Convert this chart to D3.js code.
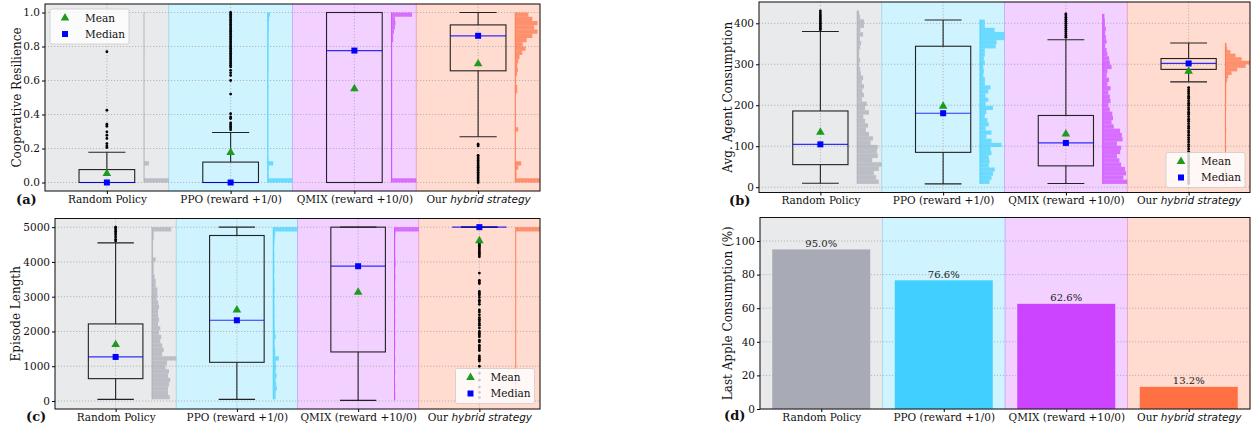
<!DOCTYPE html>
<html>
<head>
<meta charset="utf-8">
<script src="https://cdn.jsdelivr.net/npm/d3@7"></script>
<style>
body { margin: 0; background: #fff; }
svg text { font-family: "DejaVu Serif", serif; }
</style>
</head>
<body>
<svg id="chart" width="1253" height="425"></svg>
<script>
// methods + colours
const methods = ["Random Policy", "PPO (reward +1/0)", "QMIX (reward +10/0)", "Our hybrid strategy"]
const colors = ["#a8abb5", "#40cfff", "#cc44ff", "#ff7043"]

// box stats per method: [whisker lo, q1, median, q3, whisker hi, mean]
const crBox = [[0, 0, 0, 0.076, 0.178, 0.053], [0, 0, 0, 0.12, 0.294, 0.176], [0, 0, 0.776, 1.0, 1.0, 0.551], [0.269, 0.657, 0.863, 0.927, 1.0, 0.698]]
const acBox = [[9.7, 55, 104.5, 186, 380, 134], [8, 85, 180.5, 344, 408, 197.6], [9, 52, 108, 175, 360, 130], [257, 287.5, 302, 314, 352, 283]]
const elBox = [[48, 643, 1267, 2217, 4549, 1622], [48, 1113, 2322, 4760, 5000, 2620], [19, 1411, 3877, 5000, 5000, 3129], [5000, 5000, 5000, 5000, 5000, 4607]]

// fliers
const crOut = [
    [0.206, 0.216, 0.229, 0.259, 0.278, 0.298, 0.331, 0.343, 0.425, 0.769],
    [0.31, 0.32, 0.33, 0.34, 0.35, 0.376, 0.386, 0.405, 0.52, 0.6, 0.63, 0.645, 0.66, 0.68, 0.69, 0.7, 0.71, 0.72, 0.73, 0.74, 0.75, 0.76, 0.77, 0.78, 0.79, 0.8, 0.81, 0.82, 0.83, 0.84, 0.85, 0.86, 0.87, 0.88, 0.89, 0.9, 0.91, 0.92, 0.93, 0.94, 0.95, 0.96, 0.97, 0.98, 0.99, 1.0],
    [],
    [0.0, 0.01, 0.02, 0.03, 0.04, 0.05, 0.06, 0.07, 0.08, 0.09, 0.1, 0.11, 0.12, 0.13, 0.14, 0.15, 0.16, 0.215, 0.225]
]
const acOut = [
    [384, 388, 392, 396, 400, 404, 408, 412, 416, 420, 425, 430],
    [],
    [366, 370, 375, 380, 385, 390, 395, 400, 405, 410, 415, 420, 423],
    [243, 238, 233, 228, 222, 217, 211, 205, 200, 194, 189, 183, 178, 172, 166, 161, 155, 149, 144, 138, 133, 127, 121, 116, 110, 104, 99, 93, 87, 82, 76, 70, 65, 59, 53, 48, 42, 36, 31, 25, 19, 14, 9]
]
const elOut = [
    [4600, 4650, 4720, 4780, 4830, 4880, 4930, 4980, 5000],
    [],
    [],
    [4560, 4520, 4480, 4440, 4400, 4350, 4300, 4250, 4200, 4150, 3680, 3470, 3420, 3380, 3150, 3100, 3050, 2980, 2900, 2850, 2780, 2620, 2560, 2480, 2400, 2350, 2300, 2230, 2180, 2100, 2000, 1950, 1900, 1850, 1750, 1700, 1600, 1550, 1500, 1450, 1300, 1250, 1200, 1150, 1000, 800, 600, 400, 250, 100]
]

// side histograms (relative bin widths, lowest bin first) and their value ranges
const crHist = [
    [1, 0.01, 0.01, 0.01, 0.2, 0.01, 0.01, 0.01, 0.01, 0.01, 0.01, 0.01, 0.01, 0.01, 0.01, 0.01, 0.01, 0, 0, 0, 0, 0, 0, 0, 0, 0, 0, 0, 0, 0, 0.01, 0, 0, 0, 0, 0, 0, 0, 0, 0],
    [1, 0.04, 0.03, 0.04, 0.22, 0.03, 0.02, 0.02, 0.02, 0.02, 0.02, 0.02, 0.02, 0.02, 0.02, 0.02, 0.02, 0.02, 0.02, 0.02, 0.02, 0.02, 0.03, 0.02, 0.02, 0.02, 0.03, 0.03, 0.03, 0.03, 0.03, 0.03, 0.03, 0.03, 0.03, 0.04, 0.04, 0.04, 0.05, 0.09],
    [1, 0.03, 0.03, 0.03, 0.03, 0.03, 0.03, 0.03, 0.03, 0.03, 0.03, 0.03, 0.03, 0.03, 0.03, 0.03, 0.03, 0.03, 0.03, 0.03, 0.03, 0.03, 0.03, 0.03, 0.03, 0.03, 0.03, 0.03, 0.03, 0.03, 0.03, 0.03, 0.03, 0.07, 0.07, 0.1, 0.14, 0.16, 0.14, 0.83],
    [1, 0.05, 0.05, 0.12, 0.24, 0.02, 0.02, 0.02, 0.02, 0.02, 0.02, 0.02, 0.12, 0.02, 0.02, 0.02, 0.02, 0.02, 0.02, 0.02, 0.02, 0.08, 0.08, 0.03, 0.03, 0.07, 0.11, 0.08, 0.12, 0.17, 0.28, 0.42, 0.3, 0.46, 0.69, 0.9, 0.76, 0.9, 0.69, 0.53]
]
const crRange = [[0, 1], [0, 1], [0, 1], [0, 1]]

const acHist = [
    [0.88, 0.77, 0.68, 0.88, 1.0, 0.61, 0.84, 0.8, 0.84, 0.55, 0.64, 0.48, 0.35, 0.44, 0.32, 0.25, 0.48, 0.32, 0.39, 0.19, 0.28, 0.21, 0.28, 0.19, 0.24, 0.15, 0.12, 0.08, 0.12, 0.08, 0.08, 0.12, 0.16, 0.11, 0.24, 0.13, 0.28, 0.28, 0.12, 0.08],
    [0.39, 0.47, 0.53, 0.6, 0.36, 0.39, 0.36, 0.47, 0.43, 0.88, 0.47, 0.26, 0.47, 0.23, 0.36, 0.3, 0.2, 0.26, 0.53, 0.23, 0.34, 0.23, 0.34, 0.43, 0.2, 0.2, 0.14, 0.16, 0.14, 0.2, 0.16, 0.2, 0.2, 0.64, 0.68, 1.0, 1.0, 0.6, 0.2, 0.2],
    [1.0, 0.84, 0.95, 0.91, 0.75, 0.68, 0.58, 0.71, 0.75, 0.58, 0.81, 0.78, 0.71, 0.45, 0.36, 0.42, 0.39, 0.29, 0.23, 0.32, 0.29, 0.23, 0.32, 0.19, 0.26, 0.16, 0.19, 0.36, 0.29, 0.26, 0.19, 0.16, 0.1, 0.16, 0.13, 0.1, 0.13, 0.09, 0.09, 0.07],
    [0.02, 0.02, 0.02, 0.02, 0.02, 0.03, 0.02, 0.02, 0.02, 0.02, 0.03, 0.02, 0.02, 0.02, 0.02, 0.03, 0.02, 0.02, 0.02, 0.02, 0.02, 0.03, 0.02, 0.03, 0.03, 0.03, 0.03, 0.03, 0.04, 0.07, 0.11, 0.25, 0.48, 0.82, 1.0, 0.66, 0.41, 0.2, 0.07, 0.04]
]
const acRange = [[8, 431], [8, 409], [8, 423], [5, 352]]

const elHist = [
    [0.73, 0.66, 0.66, 0.7, 0.75, 0.66, 0.7, 0.56, 0.62, 1.0, 0.42, 0.48, 0.42, 0.34, 0.38, 0.29, 0.34, 0.25, 0.29, 0.25, 0.25, 0.29, 0.25, 0.2, 0.22, 0.22, 0.15, 0.15, 0.11, 0.07, 0.07, 0.07, 0.15, 0.04, 0.04, 0.04, 0.04, 0.07, 0.07, 0.79],
    [0.1, 0.1, 0.15, 0.12, 0.1, 0.14, 0.1, 0.12, 0.1, 0.23, 0.08, 0.08, 0.06, 0.06, 0.1, 0.08, 0.06, 0.06, 0.05, 0.06, 0.05, 0.06, 0.05, 0.05, 0.05, 0.06, 0.05, 0.05, 0.04, 0.05, 0.05, 0.04, 0.04, 0.05, 0.04, 0.04, 0.05, 0.06, 0.08, 1.0],
    [0.03, 0.03, 0.02, 0.03, 0.02, 0.02, 0.03, 0.02, 0.02, 0.03, 0.02, 0.02, 0.03, 0.03, 0.02, 0.03, 0.02, 0.03, 0.03, 0.02, 0.03, 0.03, 0.02, 0.03, 0.03, 0.03, 0.02, 0.03, 0.04, 0.03, 0.03, 0.05, 0.04, 0.03, 0.03, 0.03, 0.03, 0.03, 0.04, 1.0],
    [0.01, 0.01, 0.01, 0.01, 0.01, 0.01, 0.01, 0.01, 0.01, 0.01, 0.01, 0.01, 0.01, 0.01, 0.01, 0.01, 0.01, 0.01, 0.01, 0.01, 0.01, 0.01, 0.01, 0.01, 0.01, 0.01, 0.01, 0.01, 0.01, 0.01, 0.01, 0.01, 0.01, 0.01, 0.01, 0.01, 0.01, 0.01, 0.01, 1.0]
]
const elRange = [[48, 5000], [48, 5000], [19, 5000], [60, 5000]]

// panel (d)
const lastApple = [95.0, 76.6, 62.6, 13.2]

const crTicks = [0, 0.2, 0.4, 0.6, 0.8, 1.0]
const acTicks = [0, 100, 200, 300, 400]
const elTicks = [0, 1000, 2000, 3000, 4000, 5000]
const laTicks = [0, 20, 40, 60, 80, 100]

let svg = d3.select("#chart")

function spans(g, x, top, bottom) {
    let unit = x(1) - x(0)
    methods.forEach((m, i) => {
        g.append("rect")
            .attr("x", x(i - 0.5)).attr("y", top)
            .attr("width", unit).attr("height", bottom - top)
            .attr("fill", colors[i]).attr("fill-opacity", 0.25)
            .attr("stroke", colors[i]).attr("stroke-opacity", 0.3).attr("stroke-width", 0.8)
    })
}

function hgrid(g, y, ticks, left, right) {
    g.selectAll(null).data(ticks).enter().append("line")
        .attr("x1", left).attr("x2", right)
        .attr("y1", d => y(d)).attr("y2", d => y(d))
        .attr("stroke", "#aaa").attr("stroke-width", 0.8).attr("stroke-dasharray", "1.2,1.8")
}

function axes(g, x, y, p) {
    let ya = g.append("g").attr("transform", `translate(${p.left},0)`)
        .call(d3.axisLeft(y).tickValues(p.ticks).tickFormat(p.fmt).tickSize(3).tickPadding(2))
    ya.select(".domain").remove()
    ya.selectAll("text").attr("font-size", 10.5).attr("font-family", "DejaVu Serif").attr("fill", "#111")

    let xa = g.append("g").attr("transform", `translate(0,${p.bottom})`)
        .call(d3.axisBottom(x).tickValues([0, 1, 2, 3]).tickFormat(i => methods[i]).tickSize(3).tickPadding(1.5))
    xa.select(".domain").remove()
    xa.selectAll("text").attr("font-size", 10.5).attr("font-family", "DejaVu Serif").attr("fill", "#111")
    // italic part of the last label
    xa.selectAll("text").filter(d => d === 3).each(function() {
        let t = d3.select(this).text(null)
        t.append("tspan").text("Our ")
        t.append("tspan").text("hybrid strategy").attr("font-style", "italic").attr("font-family", "DejaVu Sans")
    })

    g.append("rect")
        .attr("x", p.left).attr("y", p.top)
        .attr("width", p.right - p.left).attr("height", p.bottom - p.top)
        .attr("fill", "none").attr("stroke", "#111").attr("stroke-width", 1)

    g.append("text")
        .attr("transform", `translate(${p.labelX},${(p.top + p.bottom) / 2}) rotate(-90)`)
        .attr("text-anchor", "middle").attr("font-size", 12).attr("fill", "#111")
        .text(p.label)

    g.append("text").attr("x", p.tagX).attr("y", p.tagY)
        .attr("font-size", 13).attr("font-weight", "bold").attr("fill", "#111")
        .text(p.tag)
}

function legend(g, x0, y0) {
    g.append("rect").attr("x", x0).attr("y", y0).attr("width", 79).attr("height", 35)
        .attr("rx", 2).attr("fill", "#fff").attr("fill-opacity", 0.8).attr("stroke", "#ccc").attr("stroke-width", 0.8)
    g.append("path").attr("transform", `translate(${x0 + 15},${y0 + 9})`)
        .attr("d", d3.symbol(d3.symbolTriangle, 32)).attr("fill", "#1f9a1f")
    g.append("path").attr("transform", `translate(${x0 + 15},${y0 + 25})`)
        .attr("d", d3.symbol(d3.symbolSquare, 36)).attr("fill", "#0000ff")
    g.append("text").attr("x", x0 + 35).attr("y", y0 + 12.5).attr("font-size", 10.5).attr("fill", "#111").text("Mean")
    g.append("text").attr("x", x0 + 35).attr("y", y0 + 28.5).attr("font-size", 10.5).attr("fill", "#111").text("Median")
}

function boxPanel(p) {
    let x = d3.scaleLinear().domain([-0.5, 3.5]).range([p.left, p.right])
    let y = d3.scaleLinear().domain(p.ydom).range([p.bottom, p.top])
    let unit = x(1) - x(0)
    let g = svg.append("g")

    spans(g, x, p.top, p.bottom)
    hgrid(g, y, p.ticks, p.left, p.right)
    g.selectAll(null).data([0, 1, 2, 3]).enter().append("line")
        .attr("x1", d => x(d)).attr("x2", d => x(d))
        .attr("y1", p.top).attr("y2", p.bottom)
        .attr("stroke", "#aaa").attr("stroke-width", 0.8).attr("stroke-dasharray", "1.2,1.8")

    // side histograms
    p.hist.forEach((h, i) => {
        let [lo, hi] = p.range[i]
        let bh = (hi - lo) / h.length
        g.selectAll(null).data(h).enter().append("rect")
            .attr("x", x(i + 0.3))
            .attr("y", (d, k) => y(lo + (k + 1) * bh))
            .attr("width", d => d * 0.2 * unit)
            .attr("height", y(lo) - y(lo + bh))
            .attr("fill", colors[i]).attr("fill-opacity", 0.7)
        g.append("line")
            .attr("x1", x(i + 0.3)).attr("x2", x(i + 0.3))
            .attr("y1", y(lo)).attr("y2", y(hi))
            .attr("stroke", colors[i]).attr("stroke-opacity", 0.8).attr("stroke-width", 1)
    })

    // fliers
    p.out.forEach((o, i) => {
        g.selectAll(null).data(o).enter().append("circle")
            .attr("cx", x(i)).attr("cy", d => y(d)).attr("r", 1.4).attr("fill", "#000")
    })

    // boxes
    p.box.forEach((b, i) => {
        let [lo, q1, med, q3, hi, mean] = b
        let bw = 0.45, cw = 0.3
        let stroke = "#222"
        g.append("line").attr("x1", x(i)).attr("x2", x(i)).attr("y1", y(q1)).attr("y2", y(lo)).attr("stroke", stroke).attr("stroke-width", 1.1)
        g.append("line").attr("x1", x(i)).attr("x2", x(i)).attr("y1", y(q3)).attr("y2", y(hi)).attr("stroke", stroke).attr("stroke-width", 1.1)
        g.append("line").attr("x1", x(i - cw / 2)).attr("x2", x(i + cw / 2)).attr("y1", y(lo)).attr("y2", y(lo)).attr("stroke", stroke).attr("stroke-width", 1.1)
        g.append("line").attr("x1", x(i - cw / 2)).attr("x2", x(i + cw / 2)).attr("y1", y(hi)).attr("y2", y(hi)).attr("stroke", stroke).attr("stroke-width", 1.1)
        g.append("rect")
            .attr("x", x(i - bw / 2)).attr("y", y(q3))
            .attr("width", bw * unit).attr("height", y(q1) - y(q3))
            .attr("fill", "none").attr("stroke", stroke).attr("stroke-width", 1.1)
        g.append("line").attr("x1", x(i - bw / 2)).attr("x2", x(i + bw / 2)).attr("y1", y(med)).attr("y2", y(med))
            .attr("stroke", "#0000ff").attr("stroke-opacity", 0.8).attr("stroke-width", 1.2)
        g.append("path").attr("transform", `translate(${x(i)},${y(mean)})`)
            .attr("d", d3.symbol(d3.symbolTriangle, 32)).attr("fill", "#1f9a1f")
        g.append("path").attr("transform", `translate(${x(i)},${y(med)})`)
            .attr("d", d3.symbol(d3.symbolSquare, 36)).attr("fill", "#0000ff")
    })

    legend(g, p.legX, p.legY)
    axes(g, x, y, p)
}

boxPanel({
    left: 45, right: 540, top: 4, bottom: 191, ydom: [-0.05, 1.05],
    ticks: crTicks, fmt: d3.format(".1f"), box: crBox, out: crOut, hist: crHist, range: crRange,
    label: "Cooperative Resilience", labelX: 21, tag: "(a)", tagX: 16, tagY: 204, legX: 50, legY: 9
})
boxPanel({
    left: 759, right: 1250, top: 2, bottom: 192.5, ydom: [-13, 452],
    ticks: acTicks, fmt: d3.format("d"), box: acBox, out: acOut, hist: acHist, range: acRange,
    label: "Avg. Agent Consumption", labelX: 732, tag: "(b)", tagX: 729, tagY: 205, legX: 1166, legY: 152.5
})
boxPanel({
    left: 55, right: 540, top: 218.5, bottom: 409, ydom: [-230, 5249],
    ticks: elTicks, fmt: d3.format("d"), box: elBox, out: elOut, hist: elHist, range: elRange,
    label: "Episode Length", labelX: 20, tag: "(c)", tagX: 26, tagY: 421, legX: 455.5, legY: 368.5
})

// panel (d): bars
{
    let p = { left: 760, right: 1250, top: 217.5, bottom: 409 }
    let x = d3.scaleLinear().domain([-0.5, 3.5]).range([p.left, p.right])
    let y = d3.scaleLinear().domain([0, 114]).range([p.bottom, p.top])
    let unit = x(1) - x(0)
    let g = svg.append("g")
    spans(g, x, p.top, p.bottom)
    hgrid(g, y, laTicks, p.left, p.right)
    g.selectAll(null).data(lastApple).enter().append("rect")
        .attr("x", (d, i) => x(i - 0.4)).attr("y", d => y(d))
        .attr("width", 0.8 * unit).attr("height", d => y(0) - y(d))
        .attr("fill", (d, i) => colors[i])
    g.selectAll(null).data(lastApple).enter().append("text")
        .attr("x", (d, i) => x(i)).attr("y", d => y(d) - 2.5)
        .attr("text-anchor", "middle").attr("font-size", 10)
        .attr("font-family", "DejaVu Sans").attr("fill", "#222")
        .text(d => d.toFixed(1) + "%")
    axes(g, x, y, Object.assign(p, {
        ticks: laTicks, fmt: d3.format("d"),
        label: "Last Apple Consumption (%)", labelX: 732, tag: "(d)", tagX: 724, tagY: 420
    }))
}
</script>
</body>
</html>
